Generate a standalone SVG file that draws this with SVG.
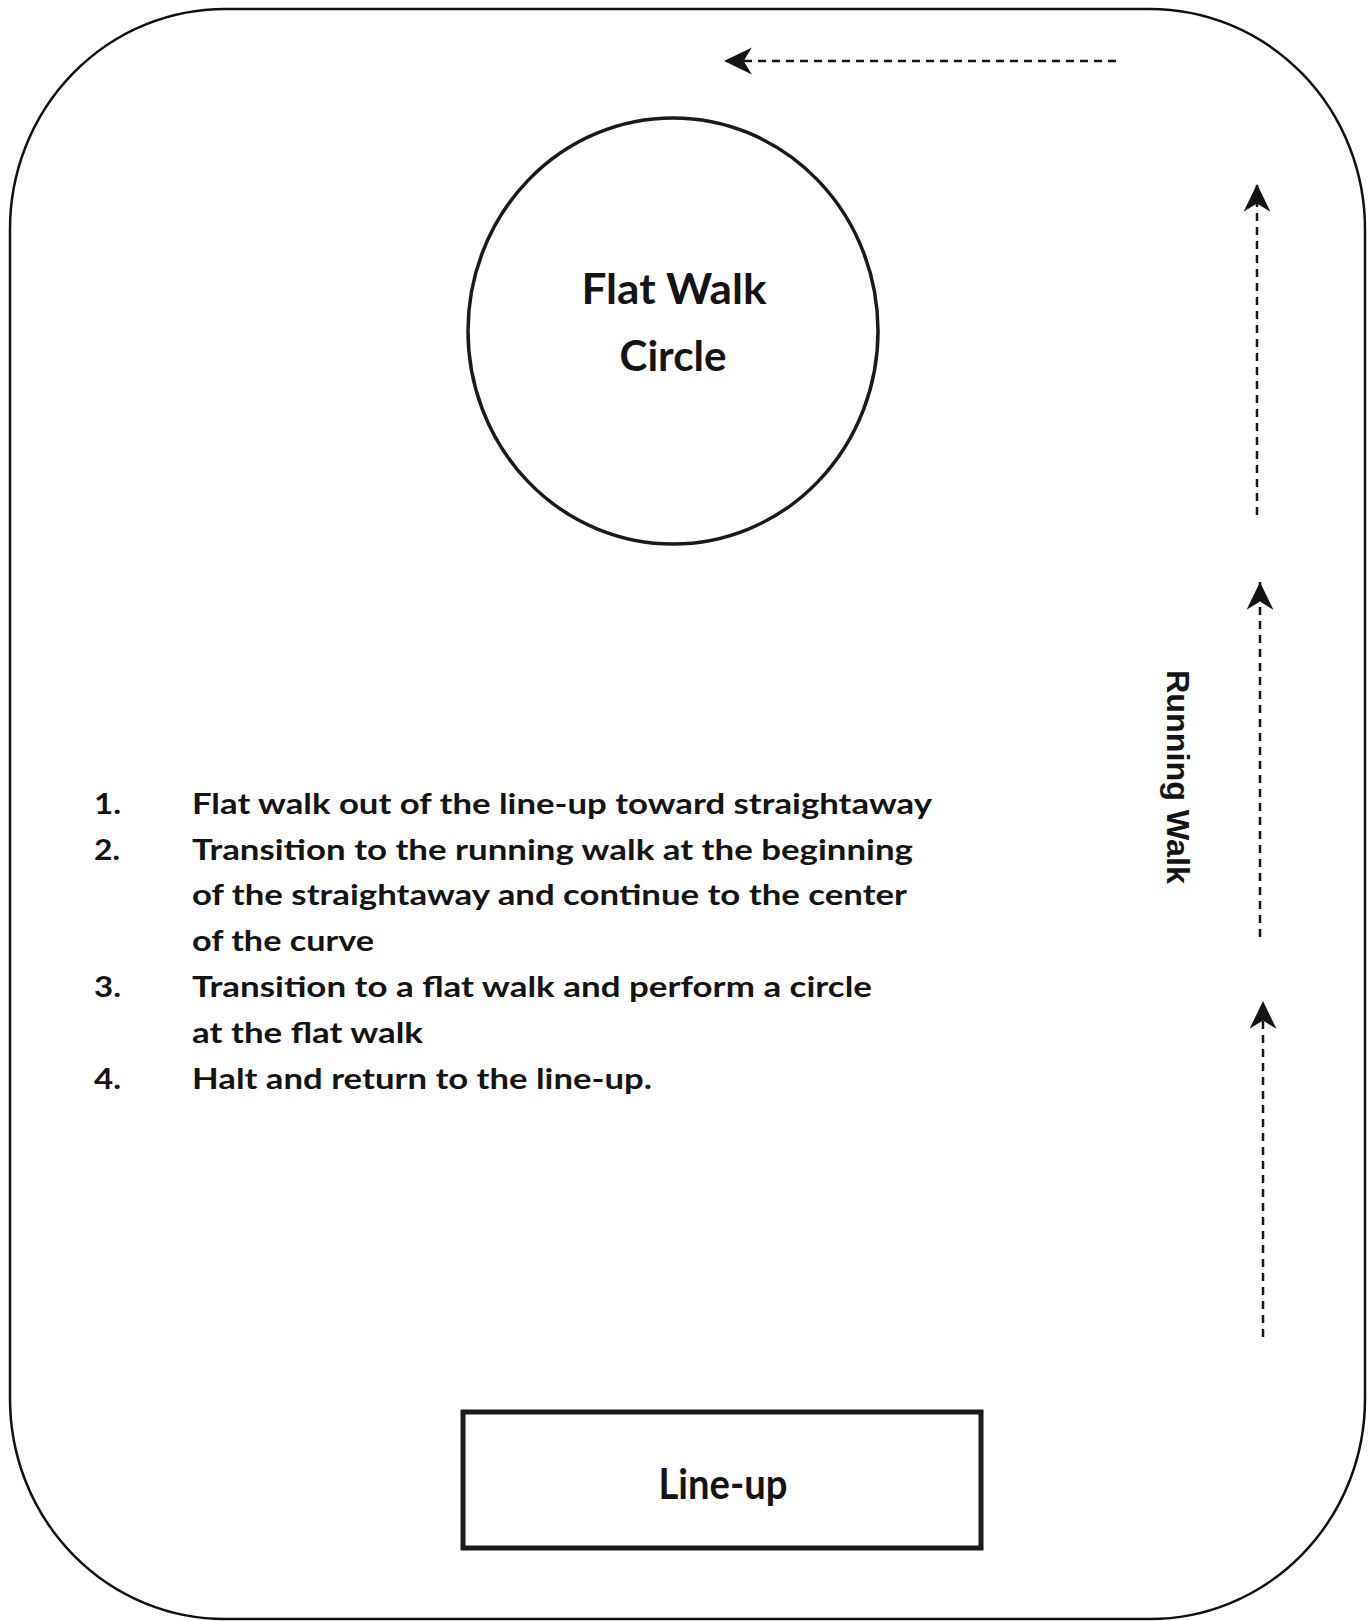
<svg xmlns="http://www.w3.org/2000/svg" width="1371" height="1621" viewBox="0 0 1371 1621">
  <style>
    .track { fill: none; stroke: #111; stroke-width: 2.5; }
    .node { fill: #fff; stroke: #1a1a1a; }
    .lbl { font-family: Lato, "Open Sans", "Liberation Sans", sans-serif; font-weight: 700; fill: #141414; }
    .list { font-family: Lato, "Open Sans", "Liberation Sans", sans-serif; font-weight: 700; font-size: 28px; fill: #141414; }
    .dash { fill: none; stroke: #141414; stroke-width: 2.5; stroke-dasharray: 8 6; marker-end: url(#head); }
  </style>
  <defs>
    <marker id="head" markerUnits="userSpaceOnUse" markerWidth="32" markerHeight="32" viewBox="-29 -15 31 30" refX="0" refY="0" orient="auto" overflow="visible">
      <path d="M0,0 L-27,-13 L-19,0 L-27,13 Z" fill="#141414"/>
    </marker>
  </defs>
  <rect width="1371" height="1621" fill="#fff"/>
  <g id="track">
    <rect class="track" x="10" y="9" width="1355" height="1610" rx="215" ry="220"/>
  </g>
  <g id="flat-walk-circle">
    <ellipse class="node" cx="673" cy="331" rx="205" ry="213" stroke-width="3.5"/>
    <text class="lbl" x="674" y="304" font-size="42" text-anchor="middle" textLength="185" lengthAdjust="spacingAndGlyphs">Flat Walk</text>
    <text class="lbl" x="673" y="371" font-size="42" text-anchor="middle" textLength="107" lengthAdjust="spacingAndGlyphs">Circle</text>
  </g>
  <g id="line-up">
    <rect class="node" x="463" y="1412" width="518" height="136" stroke-width="5"/>
    <text class="lbl" x="723" y="1499" font-size="42" text-anchor="middle" textLength="129" lengthAdjust="spacingAndGlyphs">Line-up</text>
  </g>
  <g id="running-walk-label">
    <text x="1167" y="670" transform="rotate(90 1167 670)" font-family="'Liberation Sans', Arial, sans-serif" font-weight="700" font-size="32" fill="#141414" textLength="214" lengthAdjust="spacingAndGlyphs">Running Walk</text>
  </g>
  <g id="instructions">
    <text class="list" x="94" y="814" textLength="27" lengthAdjust="spacingAndGlyphs">1.</text>
    <text class="list" x="192" y="814" textLength="740" lengthAdjust="spacingAndGlyphs">Flat walk out of the line-up toward straightaway</text>
    <text class="list" x="94" y="860" textLength="26" lengthAdjust="spacingAndGlyphs">2.</text>
    <text class="list" x="192" y="860" textLength="721" lengthAdjust="spacingAndGlyphs">Transition to the running walk at the beginning</text>
    <text class="list" x="192" y="905" textLength="715" lengthAdjust="spacingAndGlyphs">of the straightaway and continue to the center</text>
    <text class="list" x="192" y="951" textLength="182" lengthAdjust="spacingAndGlyphs">of the curve</text>
    <text class="list" x="94" y="997" textLength="27" lengthAdjust="spacingAndGlyphs">3.</text>
    <text class="list" x="192" y="997" textLength="680" lengthAdjust="spacingAndGlyphs">Transition to a flat walk and perform a circle</text>
    <text class="list" x="192" y="1043" textLength="231" lengthAdjust="spacingAndGlyphs">at the flat walk</text>
    <text class="list" x="94" y="1089" textLength="27" lengthAdjust="spacingAndGlyphs">4.</text>
    <text class="list" x="192" y="1089" textLength="460" lengthAdjust="spacingAndGlyphs">Halt and return to the line-up.</text>
  </g>
  <g id="connectors">
    <line class="dash" x1="1116" y1="61" x2="724" y2="61"/>
    <line class="dash" x1="1257" y1="515" x2="1257" y2="184"/>
    <line class="dash" x1="1260" y1="937" x2="1260" y2="582"/>
    <line class="dash" x1="1263" y1="1337" x2="1263" y2="1001"/>
  </g>
</svg>
